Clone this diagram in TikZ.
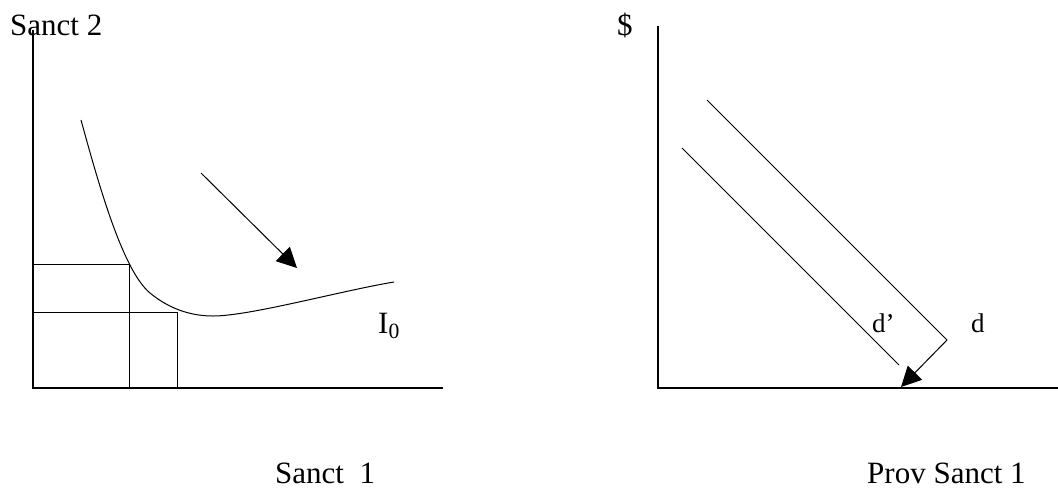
\documentclass[tikz,border=0pt]{standalone}
\usepackage{fontspec}
\setmainfont{Liberation Serif}
\usetikzlibrary{arrows.meta}
\begin{document}
\begin{tikzpicture}[x=1pt,y=-1pt,
  lbl/.style={inner sep=0pt,anchor=base west,font=\fontsize{31}{36}\selectfont},
  slbl/.style={inner sep=0pt,anchor=base west,font=\fontsize{27}{32}\selectfont},
  axis/.style={line width=1.4pt},
  thin line/.style={line width=1pt},
  bigarrow/.style={line width=1pt,-{Triangle[length=20pt,width=20pt]}}]
\useasboundingbox (0,0) rectangle (1058,488);
% ---------- left diagram ----------
\coordinate (LO) at (33,388);
\coordinate (LY) at (33,30);
\coordinate (LX) at (443,388);
\draw[axis] (LY) -- (LO) -- (LX);
\node[lbl] (s2) at (10,35) {Sanct 2};
\node[lbl] (s1) at (275,483) {Sanct\ \ 1};
% rectangles
\coordinate (A) at (129,264);
\coordinate (B) at (177,312);
\draw[thin line] (33,264) -- (A) -- (129,388);
\draw[thin line] (33,312) -- (B) -- (177,388);
% indifference curve
\coordinate (c0) at (81,120);
\coordinate (c1) at (150,293);
\coordinate (c2) at (213,316);
\coordinate (c3) at (394,282);
\draw[thin line] (c0) .. controls (97,178) and (122,270) .. (c1)
  .. controls (167,307) and (188,316) .. (c2)
  .. controls (250,316) and (340,291) .. (c3);
\node[lbl] (I0) at (378,333) {I\textsubscript{0}};
% arrow
\coordinate (a1) at (201,173);
\coordinate (a2) at (297,268);
\draw[bigarrow] (a1) -- (a2);
% ---------- right diagram ----------
\coordinate (RO) at (658,388);
\coordinate (RY) at (658,26);
\coordinate (RX) at (1058,388);
\draw[axis] (RY) -- (RO) -- (RX);
\node[lbl] (dol) at (617,35) {\$};
\node[lbl] (ps1) at (867,483) {Prov Sanct 1};
\coordinate (d1) at (707,100);
\coordinate (d2) at (947,340);
\coordinate (e1) at (682,148);
\coordinate (e2) at (899,365);
\coordinate (tip) at (901,387);
\draw[thin line] (d1) -- (d2);
\draw[thin line] (e1) -- (e2);
\draw[bigarrow] (d2) -- (tip);
\node[slbl] (dp) at (872,332) {d’};
\node[slbl] (dd) at (971,332) {d};
\end{tikzpicture}
\end{document}
